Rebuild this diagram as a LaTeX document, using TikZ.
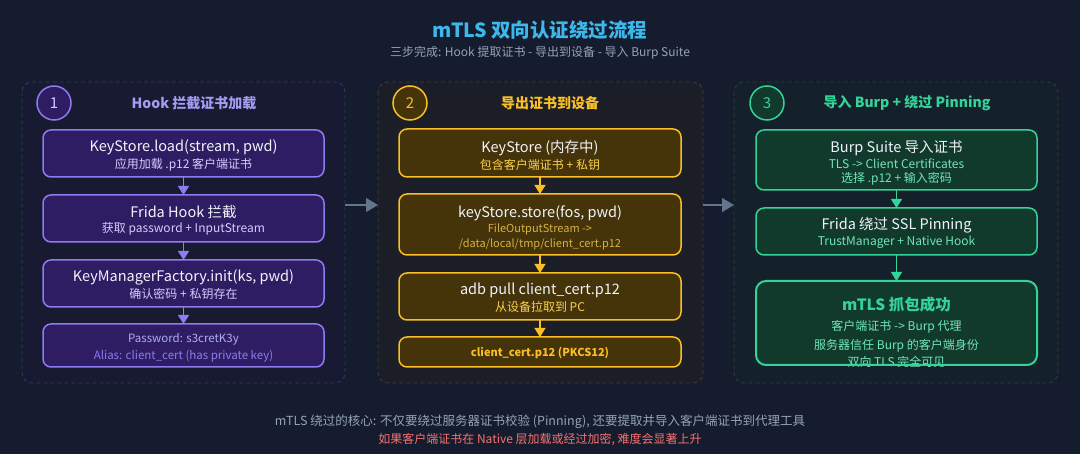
\documentclass[tikz,border=0pt]{standalone}
\usepackage{fontspec}
\setmainfont{Noto Sans CJK SC}
\usetikzlibrary{arrows.meta}
\definecolor{bg}{HTML}{151C2D}
\definecolor{titlec}{HTML}{3DB8EC}
\definecolor{subc}{HTML}{94A3B8}
\definecolor{notec}{HTML}{F87171}
\definecolor{linkc}{HTML}{64748B}
\definecolor{mainc}{HTML}{F1F3FA}
% purple
\definecolor{pfill}{HTML}{2F1D63}
\definecolor{pline}{HTML}{8B7CF0}
\definecolor{ptext}{HTML}{D4CCFF}
\definecolor{phead}{HTML}{A39CF2}
\definecolor{ppanel}{HTML}{181A31}
\definecolor{pdash}{HTML}{2C3A66}
% amber
\definecolor{afill}{HTML}{45330A}
\definecolor{aline}{HTML}{FBBF24}
\definecolor{atext}{HTML}{FCD34D}
\definecolor{apanel}{HTML}{1B1E27}
\definecolor{adash}{HTML}{3E3F36}
% green
\definecolor{gfill}{HTML}{123A2C}
\definecolor{gline}{HTML}{34D399}
\definecolor{gtext}{HTML}{6EE7B7}
\definecolor{gpanel}{HTML}{15212A}
\definecolor{gdash}{HTML}{29403C}
\tikzset{
  panel/.style={rounded corners=10pt, dashed, dash pattern=on 4pt off 3pt, line width=0.8pt},
  box/.style={rounded corners=8pt, line width=1.5pt},
  num/.style={circle, minimum size=34pt, line width=1.5pt, inner sep=0pt, font=\fontsize{15}{17}\selectfont},
  head/.style={font=\fontsize{14}{16}\selectfont\bfseries},
  maint/.style={text=mainc, font=\fontsize{14.5}{17}\selectfont, inner sep=0pt},
  subt/.style={font=\fontsize{12}{14}\selectfont, inner sep=0pt},
  smallt/.style={font=\fontsize{11.5}{13}\selectfont, inner sep=0pt},
  flow/.style={line width=1.5pt, -{Triangle[width=11pt,length=9pt]}},
  link/.style={draw=linkc, line width=1.5pt, -{Triangle[width=14pt,length=12pt]}}
}
\begin{document}
\begin{tikzpicture}[x=1pt,y=-1pt]
\fill[bg] (0,0) rectangle (1080,454);
\useasboundingbox (0,0) rectangle (1080,454);

% title
\node[text=titlec, font=\fontsize{19.5}{22}\selectfont\bfseries] (title) at (540,30) {mTLS 双向认证绕过流程};
\node[text=subc, font=\fontsize{12}{14}\selectfont] (subtitle) at (540,53) {三步完成: Hook 提取证书 - 导出到设备 - 导入 Burp Suite};

% panels
\draw[panel, draw=pdash, fill=ppanel] (22,82) rectangle (345,383);
\draw[panel, draw=adash, fill=apanel] (378,82) rectangle (703,383);
\draw[panel, draw=gdash, fill=gpanel] (734,82) rectangle (1058,383);
\coordinate (p1r) at (345,205);
\coordinate (p2l) at (378,205);
\coordinate (p2r) at (703,205);
\coordinate (p3l) at (734,205);
\draw[link] (p1r) -- (p2l);
\draw[link] (p2r) -- (p3l);

% ===== panel 1 =====
\node[num, draw=pline, fill=pfill, text=ptext] (n1) at (54,103) {1};
\node[head, text=phead] (h1) at (194,103) {Hook 拦截证书加载};

\draw[box, draw=pline, fill=pfill] (43,130) rectangle (324,177);
\node[maint] (a1t) at (183.5,147) {KeyStore.load(stream, pwd)};
\node[subt, text=ptext] (a1s) at (183.5,165) {应用加载 .p12 客户端证书};

\draw[box, draw=pline, fill=pfill] (43,195) rectangle (324,242);
\node[maint] (a2t) at (183.5,212) {Frida Hook 拦截};
\node[subt, text=ptext] (a2s) at (183.5,229) {获取 password + InputStream};

\draw[box, draw=pline, fill=pfill] (43,260) rectangle (324,307);
\node[maint] (a3t) at (183.5,277) {KeyManagerFactory.init(ks, pwd)};
\node[subt, text=ptext] (a3s) at (183.5,294) {确认密码 + 私钥存在};

\draw[box, draw=pline, fill=pfill] (43,324) rectangle (324,367);
\node[smallt, text=phead!85!white] (a4t) at (183.5,339) {Password: s3cretK3y};
\node[smallt, text=pline] (a4s) at (183.5,356) {Alias: client\_cert (has private key)};

\coordinate (a1b) at (183.5,177); \coordinate (a2a) at (183.5,195);
\coordinate (a2b) at (183.5,242); \coordinate (a3a) at (183.5,260);
\coordinate (a3b) at (183.5,307); \coordinate (a4a) at (183.5,324);
\draw[flow, draw=pline, fill=pline] (a1b) -- (a2a);
\draw[flow, draw=pline, fill=pline] (a2b) -- (a3a);
\draw[flow, draw=pline, fill=pline] (a3b) -- (a4a);

% ===== panel 2 =====
\node[num, draw=aline, fill=afill, text=aline] (n2) at (410,103) {2};
\node[head, text=aline] (h2) at (550,103) {导出证书到设备};

\draw[box, draw=aline, fill=afill] (399,129) rectangle (681,177);
\node[maint] (b1t) at (540,148) {KeyStore (内存中)};
\node[subt, text=atext] (b1s) at (540,165) {包含客户端证书 + 私钥};

\draw[box, draw=aline, fill=afill] (399,194) rectangle (681,255);
\node[maint] (b2t) at (540,213) {keyStore.store(fos, pwd)};
\node[smallt, text=atext!85!black, font=\fontsize{11}{13}\selectfont] (b2s) at (540,229) {FileOutputStream ->};
\node[smallt, text=atext!85!black, font=\fontsize{11}{13}\selectfont] (b2u) at (540,244) {/data/local/tmp/client\_cert.p12};

\draw[box, draw=aline, fill=afill] (399,273) rectangle (681,320);
\node[maint] (b3t) at (540,290) {adb pull client\_cert.p12};
\node[subt, text=atext] (b3s) at (540,307) {从设备拉取到 PC};

\draw[box, draw=aline, fill=afill] (399,337) rectangle (681,367);
\node[smallt, text=aline, font=\fontsize{11}{13}\selectfont\bfseries] (b4t) at (540,353) {client\_cert.p12 (PKCS12)};

\coordinate (b1b) at (540,177); \coordinate (b2a) at (540,194);
\coordinate (b2b) at (540,255); \coordinate (b3a) at (540,273);
\coordinate (b3b) at (540,320); \coordinate (b4a) at (540,337);
\draw[flow, draw=aline, fill=aline] (b1b) -- (b2a);
\draw[flow, draw=aline, fill=aline] (b2b) -- (b3a);
\draw[flow, draw=aline, fill=aline] (b3b) -- (b4a);

% ===== panel 3 =====
\node[num, draw=gline, fill=gfill, text=gline] (n3) at (767,103) {3};
\node[head, text=gline] (h3) at (907,103) {导入 Burp + 绕过 Pinning};

\draw[box, draw=gline, fill=gfill] (756,130) rectangle (1037,190);
\node[maint] (c1t) at (896.5,148) {Burp Suite 导入证书};
\node[subt, text=gtext] (c1s) at (896.5,164) {TLS -> Client Certificates};
\node[subt, text=gtext] (c1u) at (896.5,179) {选择 .p12 + 输入密码};

\draw[box, draw=gline, fill=gfill] (756,208) rectangle (1037,255);
\node[maint] (c2t) at (896.5,225) {Frida 绕过 SSL Pinning};
\node[subt, text=gtext] (c2s) at (896.5,242) {TrustManager + Native Hook};

\fill[gfill, rounded corners=10pt] (756,281) rectangle (1037,365);
\node[text=gline, font=\fontsize{15.5}{18}\selectfont\bfseries, inner sep=0pt] (c3t) at (896.5,305) {mTLS 抓包成功};
\node[subt, text=gtext] (c3s) at (896.5,327) {客户端证书 -> Burp 代理};
\node[subt, text=gtext] (c3u) at (896.5,346) {服务器信任 Burp 的客户端身份};
\node[subt, text=gtext] (c3v) at (896.5,362) {双向 TLS 完全可见};
\draw[gline, line width=2pt, rounded corners=10pt] (756,281) rectangle (1037,365);

\coordinate (c1b) at (896.5,190); \coordinate (c2a) at (896.5,208);
\coordinate (c2b) at (896.5,255); \coordinate (c3a) at (896.5,281);
\draw[flow, draw=gline, fill=gline] (c1b) -- (c2a);
\draw[flow, draw=gline, fill=gline] (c2b) -- (c3a);

% ===== bottom notes =====
\node[text=subc, font=\fontsize{12.5}{14}\selectfont] (note1) at (540,422) {mTLS 绕过的核心: 不仅要绕过服务器证书校验 (Pinning), 还要提取并导入客户端证书到代理工具};
\node[text=notec, font=\fontsize{12}{14}\selectfont] (note2) at (540,440) {如果客户端证书在 Native 层加载或经过加密, 难度会显著上升};
\end{tikzpicture}
\end{document}
